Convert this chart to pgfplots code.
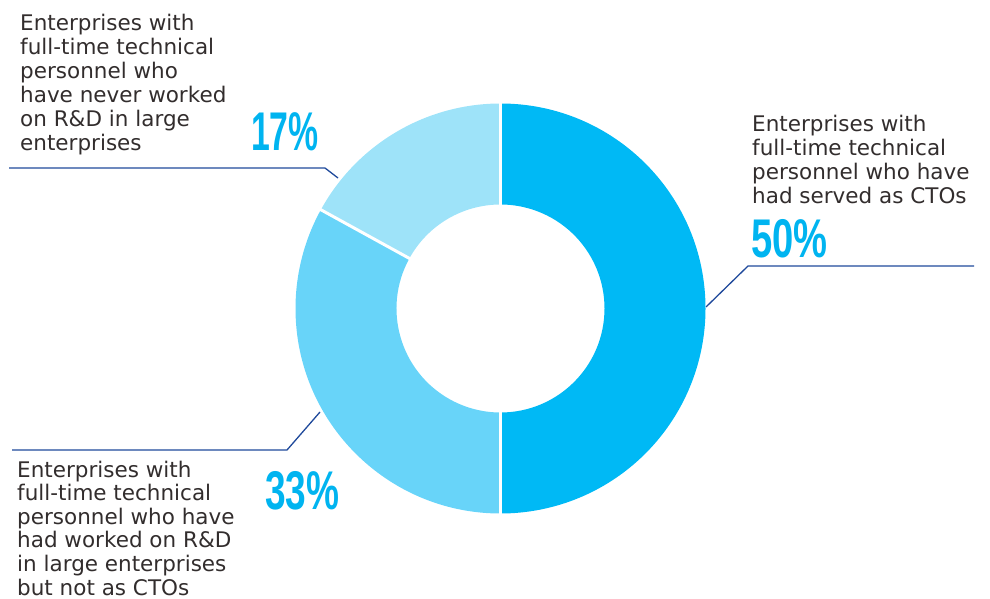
\documentclass[border=0pt]{standalone}
\usepackage{pgfplots}
\pgfplotsset{compat=1.18}
\usepackage{pgfplotstable}
\usepackage{graphicx}
\usepackage{fontspec}
\setmainfont{DejaVu Sans}
\newfontfamily\pctfont{Liberation Sans}
\definecolor{cA}{RGB}{0,185,245}
\definecolor{cB}{RGB}{104,212,249}
\definecolor{cC}{RGB}{158,227,249}
\definecolor{leader}{RGB}{31,73,155}
\definecolor{txt}{RGB}{50,45,45}
\definecolor{pct}{RGB}{0,180,240}

\pgfplotstableread{
label value
CTO 50
RD 33
Never 17
}\datatable

\newcommand{\lbl}{\fontsize{21.5}{24}\selectfont\color{txt}}
\newcommand{\pc}[2]{\scalebox{#1}[1]{\pctfont\bfseries\fontsize{54.5}{56}\selectfont\color{pct}#2}}

\begin{document}
\begin{tikzpicture}
\useasboundingbox (0,0) rectangle (990pt,599pt);
\pgfplotstablegetelem{0}{value}\of\datatable \let\vA\pgfplotsretval
\pgfplotstablegetelem{1}{value}\of\datatable \let\vB\pgfplotsretval
\pgfplotstablegetelem{2}{value}\of\datatable \let\vC\pgfplotsretval
\pgfmathsetmacro{\aA}{90}
\pgfmathsetmacro{\aB}{\aA-\vA*3.6}
\pgfmathsetmacro{\aC}{\aB-\vB*3.6}
\pgfmathsetmacro{\aD}{\aC-\vC*3.6}
\begin{axis}[scale only axis, width=990pt, height=599pt,
  xmin=0, xmax=990, ymin=0, ymax=599, y dir=reverse,
  hide axis, clip=false, anchor=south west, at={(0,0)}]
% wedges
\fill[cA, shift={(axis cs:500.5,308.5)}] (\aA:205pt) arc[start angle=\aA, end angle=\aB, radius=205pt] -- (\aB:104pt) arc[start angle=\aB, end angle=\aA, radius=104pt] -- cycle;
\fill[cB, shift={(axis cs:500.5,308.5)}] (\aB:205pt) arc[start angle=\aB, end angle=\aC, radius=205pt] -- (\aC:104pt) arc[start angle=\aC, end angle=\aB, radius=104pt] -- cycle;
\fill[cC, shift={(axis cs:500.5,308.5)}] (\aC:205pt) arc[start angle=\aC, end angle=\aD, radius=205pt] -- (\aD:104pt) arc[start angle=\aD, end angle=\aC, radius=104pt] -- cycle;
% separators
\draw[white, line width=3pt, shift={(axis cs:500.5,308.5)}] (\aA:100pt) -- (\aA:210pt);
\draw[white, line width=3pt, shift={(axis cs:500.5,308.5)}] (\aB:100pt) -- (\aB:210pt);
\draw[white, line width=3pt, shift={(axis cs:500.5,308.5)}] (\aC:100pt) -- (\aC:210pt);
% leader lines
\addplot[leader, line width=1.3pt, mark=none] coordinates {(706,307) (748,266) (974,266)};
\addplot[leader, line width=1.3pt, mark=none] coordinates {(9,168) (325,168) (338,178)};
\addplot[leader, line width=1.3pt, mark=none] coordinates {(12,450) (287,450) (320,412)};
% top-left text
\node[anchor=base west, inner sep=0] at (axis cs:20,30.5) {\lbl Enterprises with};
\node[anchor=base west, inner sep=0] at (axis cs:20,54.5) {\lbl full-time technical};
\node[anchor=base west, inner sep=0] at (axis cs:20,78.5) {\lbl personnel who};
\node[anchor=base west, inner sep=0] at (axis cs:20,102.5) {\lbl have never worked};
\node[anchor=base west, inner sep=0] at (axis cs:20,126.5) {\lbl on R\&D in large};
\node[anchor=base west, inner sep=0] at (axis cs:20,150.5) {\lbl enterprises};
% right text
\node[anchor=base west, inner sep=0] at (axis cs:752,131.5) {\lbl Enterprises with};
\node[anchor=base west, inner sep=0] at (axis cs:752,155.5) {\lbl full-time technical};
\node[anchor=base west, inner sep=0] at (axis cs:752,179.5) {\lbl personnel who have};
\node[anchor=base west, inner sep=0] at (axis cs:752,203.5) {\lbl had served as CTOs};
% bottom-left text
\node[anchor=base west, inner sep=0] at (axis cs:17,477) {\lbl Enterprises with};
\node[anchor=base west, inner sep=0] at (axis cs:17,500.6) {\lbl full-time technical};
\node[anchor=base west, inner sep=0] at (axis cs:17,524.2) {\lbl personnel who have};
\node[anchor=base west, inner sep=0] at (axis cs:17,547.8) {\lbl had worked on R\&D};
\node[anchor=base west, inner sep=0] at (axis cs:17,571.4) {\lbl in large enterprises};
\node[anchor=base west, inner sep=0] at (axis cs:17,595) {\lbl but not as CTOs};
% percentages
\node[anchor=base west, inner sep=0] at (axis cs:251,150) {\pc{0.62}{17\%}};
\node[anchor=base west, inner sep=0] at (axis cs:751,257) {\pc{0.70}{50\%}};
\node[anchor=base west, inner sep=0] at (axis cs:265,509) {\pc{0.68}{33\%}};
\end{axis}
\end{tikzpicture}
\end{document}
